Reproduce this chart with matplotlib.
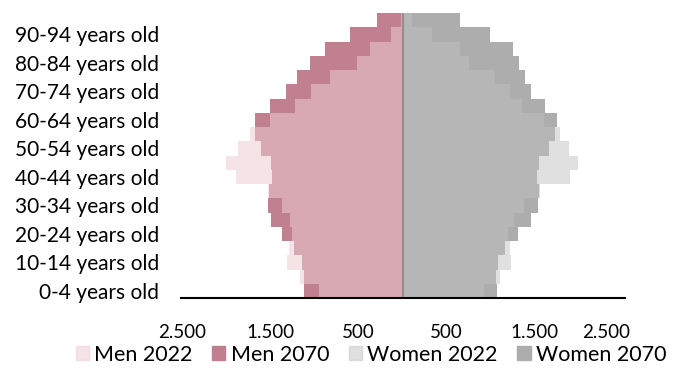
import matplotlib.pyplot as plt
import matplotlib.transforms as mtransforms
import numpy as np
from matplotlib.patches import Patch
from matplotlib.ticker import FuncFormatter

plt.rcParams['font.family'] = ['Lato', 'DejaVu Sans']

ages = ['0-4', '5-9', '10-14', '15-19', '20-24', '25-29', '30-34', '35-39',
        '40-44', '45-49', '50-54', '55-59', '60-64', '65-69', '70-74',
        '75-79', '80-84', '85-89', '90-94', '95+']

men_2022 = [947, 1159, 1307, 1284, 1250, 1280, 1364, 1530, 1886, 2000,
            1871, 1727, 1500, 1216, 1034, 818, 515, 364, 136, 20]
men_2070 = [1121, 1114, 1140, 1231, 1364, 1489, 1530, 1515, 1485, 1492,
            1606, 1670, 1678, 1508, 1318, 1197, 1053, 883, 602, 287]
women_2022 = [920, 1102, 1235, 1216, 1193, 1261, 1375, 1565, 1906, 1993,
              1886, 1784, 1610, 1357, 1224, 1045, 758, 656, 334, 107]
women_2070 = [1073, 1065, 1080, 1167, 1311, 1462, 1538, 1545, 1527, 1545,
              1659, 1735, 1758, 1614, 1462, 1394, 1318, 1250, 997, 656]

c_men_22 = (238/255, 205/255, 210/255)
c_men_70 = '#c08090'
c_wom_22 = (192/255, 192/255, 192/255)
c_wom_70 = '#adadad'

fig = plt.figure(figsize=(6.74, 3.68), dpi=100)
ax = fig.add_axes([181/674, 1 - 298/368, 444/674, 285/368])

y = np.arange(len(ages))
ax.barh(y, -np.array(men_2070), height=1.0, color=c_men_70, zorder=1)
ax.barh(y, -np.array(men_2022), height=1.0, color=c_men_22, alpha=0.54, zorder=2)
ax.barh(y, women_2070, height=1.0, color=c_wom_70, zorder=1)
ax.barh(y, women_2022, height=1.0, color=c_wom_22, alpha=0.49, zorder=2)

ax.axvline(0, color='#8a8a8a', lw=1.3, zorder=3)

ax.set_xlim(-2515, 2525)
ax.set_ylim(-0.5, len(ages) - 0.5)

ax.set_yticks(y[::2])
ax.set_yticklabels([a + ' years old' for a in ages[::2]])
ax.set_xticks([-2500, -1500, -500, 500, 1500, 2500])
ax.xaxis.set_major_formatter(FuncFormatter(lambda v, p: f'{abs(v):,.0f}'.replace(',', '.')))
ax.tick_params(axis='y', length=0, labelsize=15, pad=16)
ax.tick_params(axis='x', length=0, labelsize=13.5, pad=19)

# the right-most label sits a bit inside in the original
lbl = ax.get_xticklabels()[-1]
lbl.set_transform(lbl.get_transform() + mtransforms.ScaledTranslation(-17/100, 0, fig.dpi_scale_trans))

for s in ['top', 'right', 'left']:
    ax.spines[s].set_visible(False)
ax.spines['bottom'].set_color('black')
ax.spines['bottom'].set_linewidth(1.5)
ax.spines['bottom'].set_zorder(4)

handles = [
    Patch(color=c_men_22, alpha=0.54, label='Men 2022'),
    Patch(color=c_men_70, label='Men 2070'),
    Patch(color=c_wom_22, alpha=0.49, label='Women 2022'),
    Patch(color=c_wom_70, label='Women 2070'),
]
fig.legend(handles=handles, loc='center', bbox_to_anchor=(371/674, 1 - 355/368),
           ncol=4, frameon=False, fontsize=15.5, handlelength=0.62, handleheight=0.62,
           handletextpad=0.25, columnspacing=0.9, borderaxespad=0)

fig.savefig('out.png', dpi=100)
